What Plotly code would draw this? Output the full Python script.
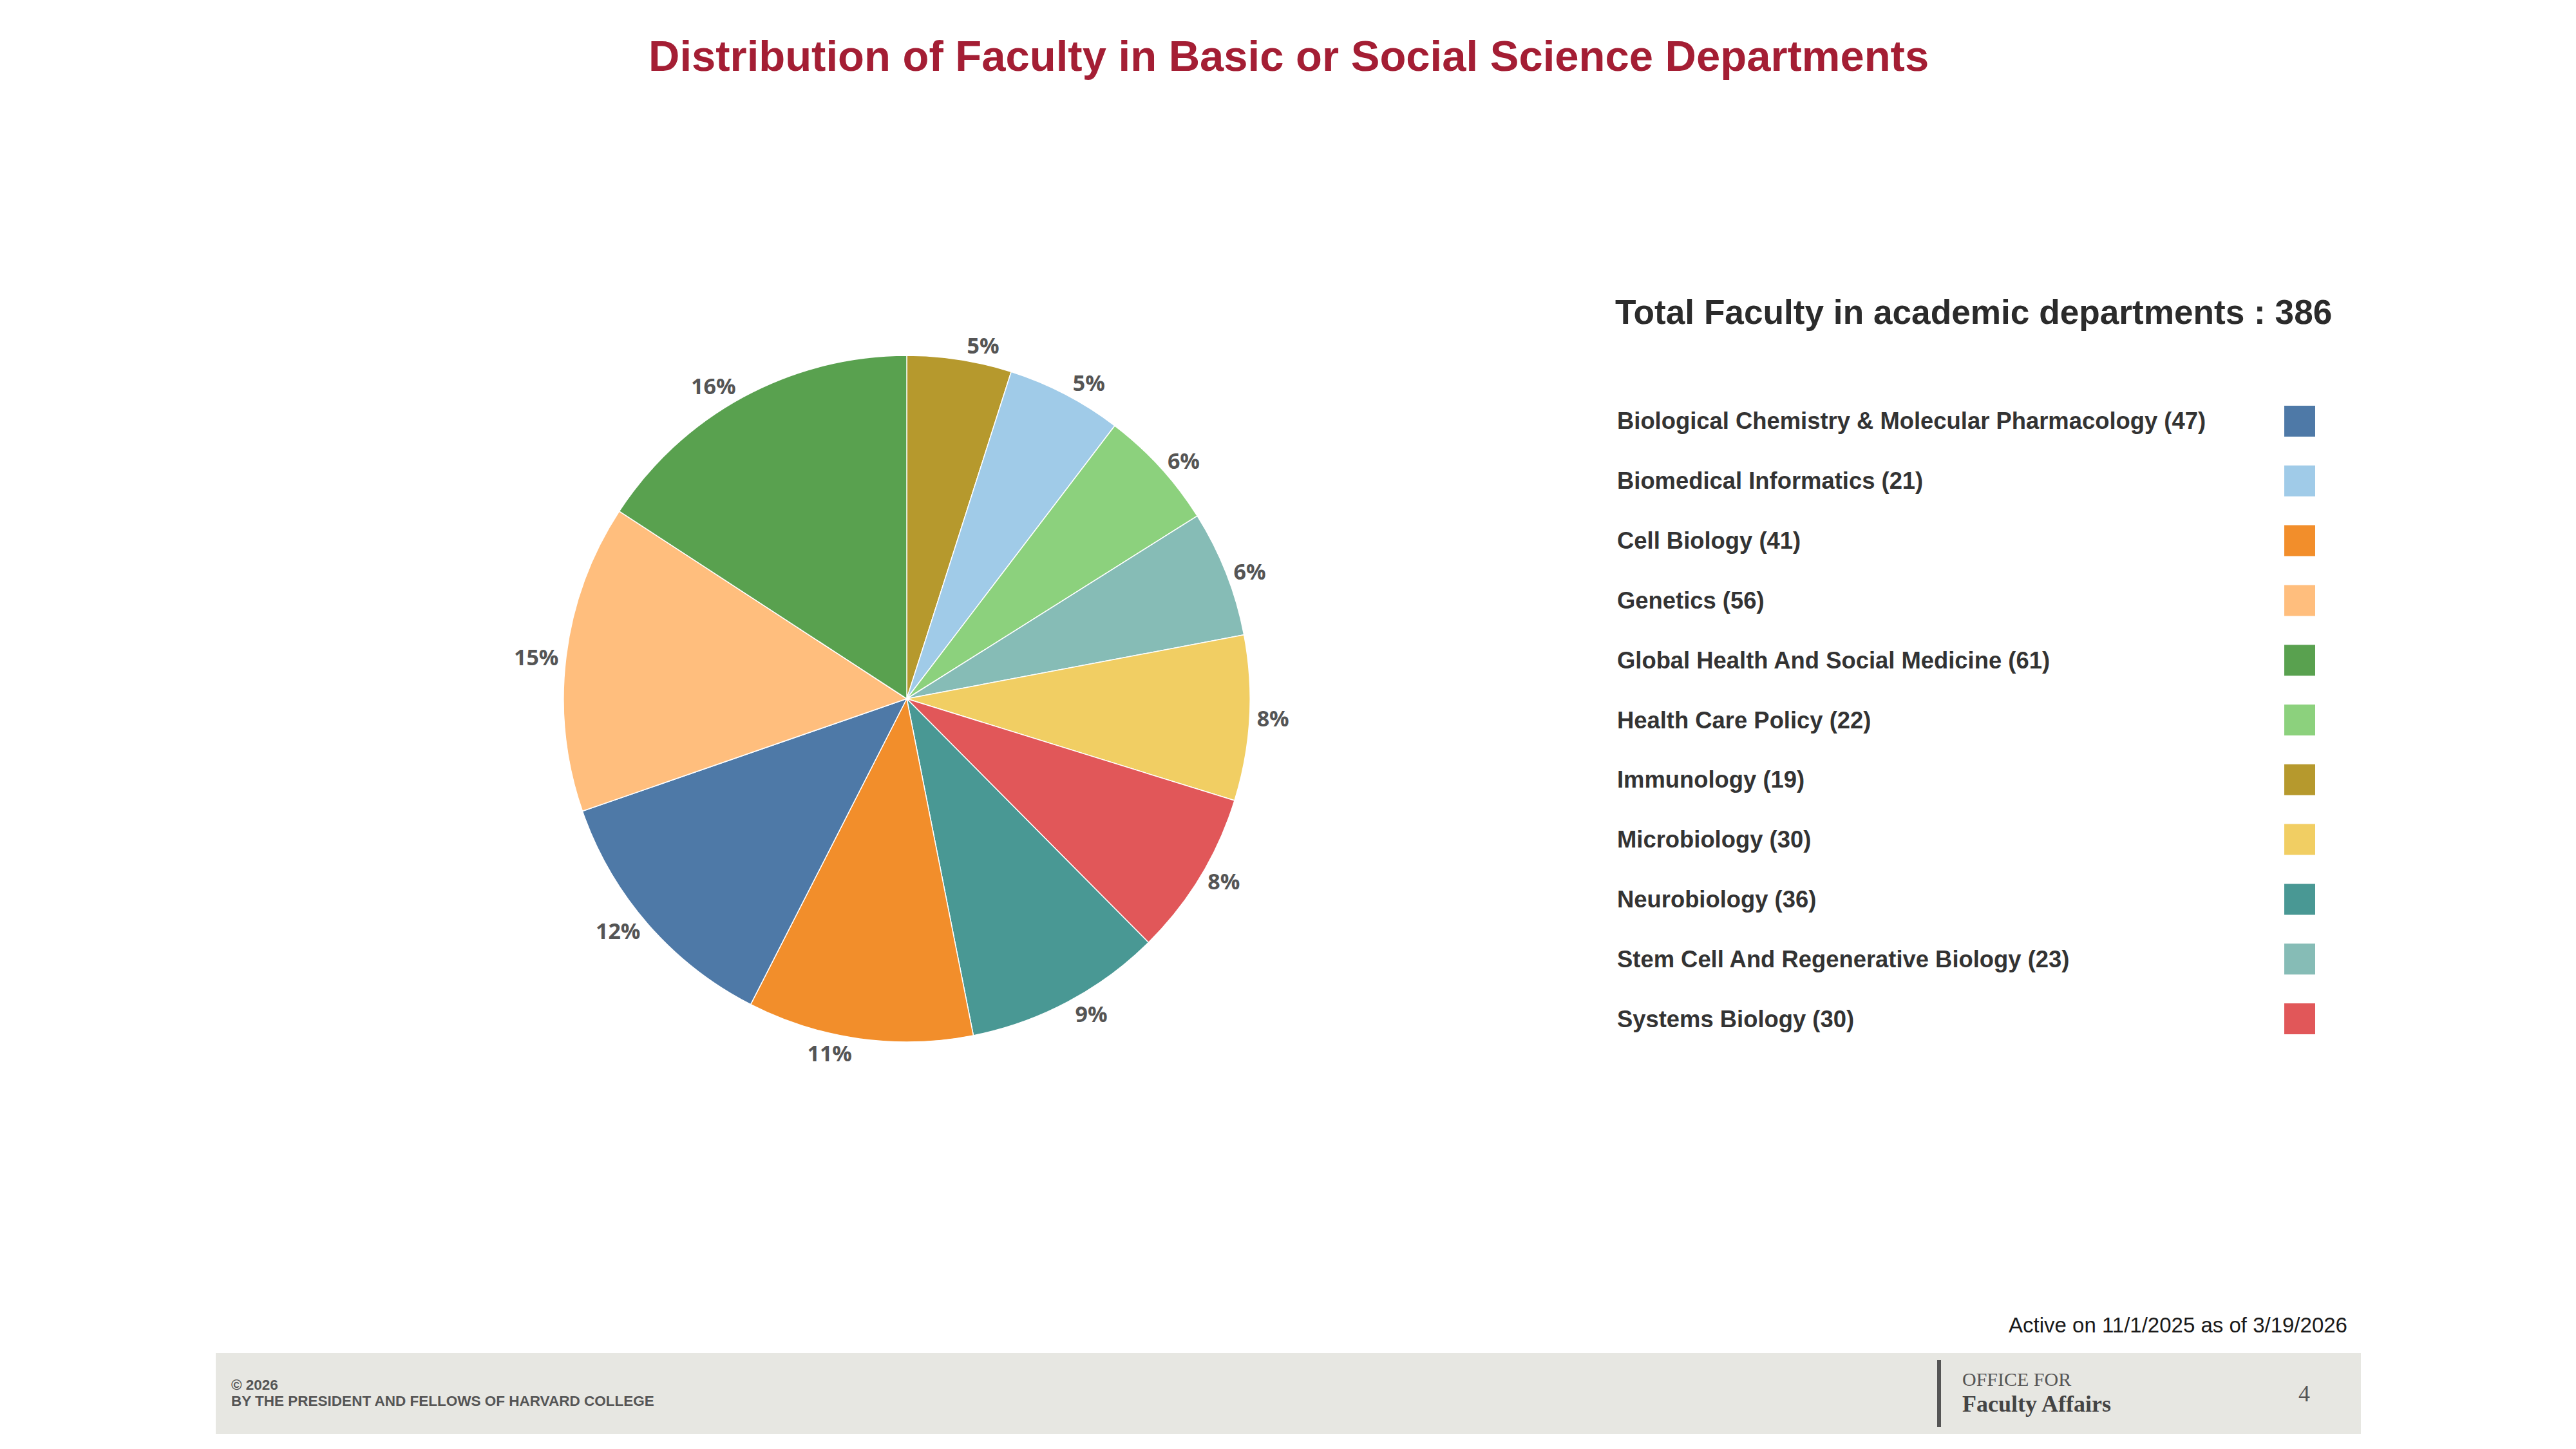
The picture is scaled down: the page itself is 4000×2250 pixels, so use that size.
import plotly.graph_objects as go

W, H = 4000, 2250

# ---- data ----
departments = [
    "Biological Chemistry & Molecular Pharmacology",
    "Biomedical Informatics",
    "Cell Biology",
    "Genetics",
    "Global Health And Social Medicine",
    "Health Care Policy",
    "Immunology",
    "Microbiology",
    "Neurobiology",
    "Stem Cell And Regenerative Biology",
    "Systems Biology",
]
faculty_counts = [47, 21, 41, 56, 61, 22, 19, 30, 36, 23, 30]
dept_colors = [
    "#4E79A7", "#A0CBE8", "#F28E2B", "#FFBE7D", "#59A14F", "#8CD17D",
    "#B6992D", "#F1CE63", "#499894", "#86BCB6", "#E15759",
]
title_text = "Distribution of Faculty in Basic or Social Science Departments"
total_label = "Total Faculty in academic departments"
date_note = "Active on 11/1/2025 as of 3/19/2026"
page_number = "4"


def px(x):
    return x / W


def py(y):
    return 1 - y / H


# pie ordered ascending clockwise from 12 o'clock
order = sorted(range(len(departments)), key=lambda i: faculty_counts[i])
pie_labels = [departments[i] for i in order]
pie_values = [faculty_counts[i] for i in order]
pie_colors = [dept_colors[i] for i in order]

cx, cy, r = 1408, 1085, 533

fig = go.Figure()
fig.add_trace(go.Pie(
    labels=pie_labels,
    values=pie_values,
    sort=False,
    direction="clockwise",
    rotation=0,
    marker=dict(colors=pie_colors, line=dict(color="white", width=1.5)),
    textposition="outside",
    texttemplate="%{percent:.0%}",
    textfont=dict(family="Open Sans", size=34, color="#555555", weight="bold"),
    showlegend=False,
    automargin=False,
    domain=dict(x=[px(cx - r), px(cx + r)], y=[py(cy + r), py(cy - r)]),
    hoverinfo="label+value+percent",
))

annotations = []
shapes = []

# title
annotations.append(dict(
    x=px(2001), y=py(86), xref="paper", yref="paper", xanchor="center", yanchor="middle",
    text=f"<b>{title_text}</b>", showarrow=False,
    font=dict(family="Liberation Sans", size=67, color="#A41E34"),
))

# legend header
total = sum(faculty_counts)
annotations.append(dict(
    x=px(2506), y=py(484), xref="paper", yref="paper", xanchor="left", yanchor="middle",
    text=f"<b>{total_label} : {total}</b>", showarrow=False,
    font=dict(family="Liberation Sans", size=53.2, color="#2b2b2b"),
))

# legend entries
y0, dy = 654, 92.8
for i, (name, val, col) in enumerate(zip(departments, faculty_counts, dept_colors)):
    yc = y0 + dy * i
    annotations.append(dict(
        x=px(2509), y=py(yc), xref="paper", yref="paper", xanchor="left", yanchor="middle",
        text=f"<b>{name} ({val})</b>", showarrow=False,
        font=dict(family="Liberation Sans", size=36.4, color="#333333"),
    ))
    shapes.append(dict(
        type="rect", xref="paper", yref="paper",
        x0=px(3547), x1=px(3595), y0=py(yc + 24), y1=py(yc - 24),
        fillcolor=col, line=dict(width=0),
    ))

# date note
annotations.append(dict(
    x=px(3647), y=py(2057), xref="paper", yref="paper", xanchor="right", yanchor="middle",
    text=date_note, showarrow=False,
    font=dict(family="Liberation Sans", size=33, color="#1a1a1a"),
))

# footer band
shapes.append(dict(
    type="rect", xref="paper", yref="paper", layer="below",
    x0=px(335), x1=px(3666), y0=py(2227), y1=py(2101),
    fillcolor="#E7E7E2", line=dict(width=0),
))
shapes.append(dict(
    type="line", xref="paper", yref="paper",
    x0=px(3011), x1=px(3011), y0=py(2216), y1=py(2112),
    line=dict(color="#555555", width=6),
))
annotations.append(dict(
    x=px(357), y=py(2150), xref="paper", yref="paper", xanchor="left", yanchor="middle",
    text="<b>© 2026</b>", showarrow=False,
    font=dict(family="Liberation Sans", size=22.5, color="#555555"),
))
annotations.append(dict(
    x=px(357), y=py(2175), xref="paper", yref="paper", xanchor="left", yanchor="middle",
    text="<b>BY THE PRESIDENT AND FELLOWS OF HARVARD COLLEGE</b>", showarrow=False,
    font=dict(family="Liberation Sans", size=22.5, color="#555555"),
))
annotations.append(dict(
    x=px(3045), y=py(2141), xref="paper", yref="paper", xanchor="left", yanchor="middle",
    text="OFFICE FOR", showarrow=False,
    font=dict(family="Liberation Serif", size=30, color="#555555"),
))
annotations.append(dict(
    x=px(3045), y=py(2180), xref="paper", yref="paper", xanchor="left", yanchor="middle",
    text="<b>Faculty Affairs</b>", showarrow=False,
    font=dict(family="Liberation Serif", size=36, color="#444444"),
))
annotations.append(dict(
    x=px(3578), y=py(2164), xref="paper", yref="paper", xanchor="center", yanchor="middle",
    text=page_number, showarrow=False,
    font=dict(family="Liberation Serif", size=36, color="#555555"),
))

fig.update_layout(
    width=W, height=H,
    margin=dict(l=0, r=0, t=0, b=0),
    paper_bgcolor="white", plot_bgcolor="white",
    annotations=annotations, shapes=shapes,
    showlegend=False,
)

fig.write_html("out.html")
